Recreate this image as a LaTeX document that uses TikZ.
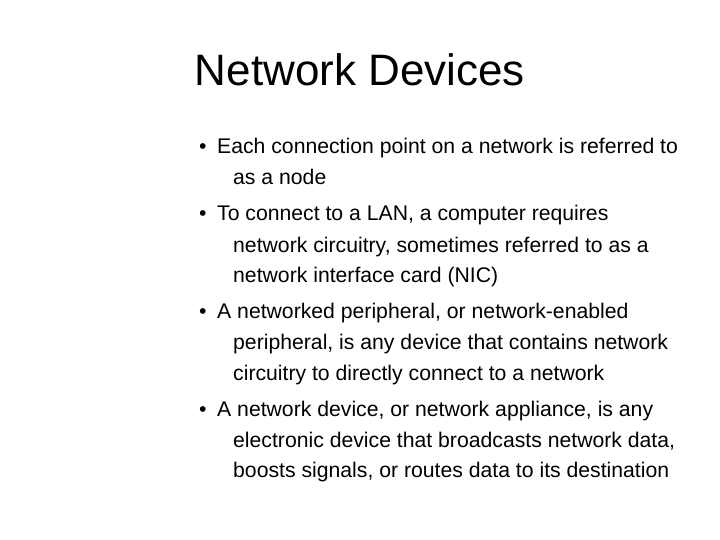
\documentclass[tikz,border=0pt]{standalone}
\usepackage{fontspec}
\setmainfont{Liberation Sans}
\begin{document}
\begin{tikzpicture}[x=1pt,y=-1pt,
  body/.style={anchor=base west,inner sep=0pt,font=\fontsize{21.2}{24}\selectfont},
  bul/.style={anchor=base west,inner sep=0pt,font=\fontsize{21.2}{24}\selectfont}]
\useasboundingbox (0,0) rectangle (720,540);
\node[anchor=base,inner sep=0pt,font=\fontsize{44}{44}\selectfont] (title) at (360,86) {Network Devices};
\foreach \y/\b in {154/b1,221/b2,318/b3,416/b4}{\node[bul] (\b) at (199,\y) {•};}
\node[body] (l1) at (217,154) {Each connection point on a network is referred to};
\node[body] (l2) at (233,185) {as a node};
\node[body] (l3) at (217,221) {To connect to a LAN, a computer requires};
\node[body] (l4) at (233,252) {network circuitry, sometimes referred to as a};
\node[body] (l5) at (233,282) {network interface card (NIC)};
\node[body] (l6) at (217,318) {A networked peripheral, or network-enabled};
\node[body] (l7) at (233,349) {peripheral, is any device that contains network};
\node[body] (l8) at (233,380) {circuitry to directly connect to a network};
\node[body] (l9) at (217,416) {A network device, or network appliance, is any};
\node[body] (l10) at (233,447) {electronic device that broadcasts network data,};
\node[body] (l11) at (233,477) {boosts signals, or routes data to its destination};
\end{tikzpicture}
\end{document}
